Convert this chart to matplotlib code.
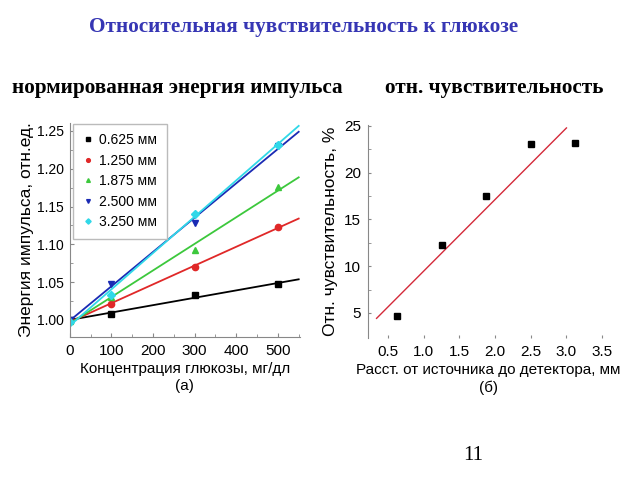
import numpy as np
import matplotlib
matplotlib.use("Agg")
import matplotlib.pyplot as plt
from matplotlib import font_manager

# --- данные ---
conc = [0, 100, 300, 500]  # концентрация глюкозы, мг/дл
series_labels = ["0.625 мм", "1.250 мм", "1.875 мм", "2.500 мм", "3.250 мм"]
energy_0625 = [1.000, 1.008, 1.033, 1.047]
energy_1250 = [0.999, 1.021, 1.070, 1.123]
energy_1875 = [0.998, 1.031, 1.092, 1.176]
energy_2500 = [1.000, 1.047, 1.128, 1.230]
energy_3250 = [0.997, 1.033, 1.140, 1.232]

dist = [0.625, 1.25, 1.875, 2.5, 3.125]  # расстояние источник-детектор, мм
sens = [4.7, 12.3, 17.5, 23.1, 23.2]     # отн. чувствительность, %

names = {f.name for f in font_manager.fontManager.ttflist}
sans = "Liberation Sans Narrow" if "Liberation Sans Narrow" in names else "Liberation Sans"
serif = "Liberation Serif"

fig = plt.figure(figsize=(6.4, 4.8), dpi=100)

fig.text(0.475, 0.943, "Относительная чувствительность к глюкозе", ha="center", va="center",
         family=serif, fontweight="bold", fontsize=15.3, color="#3636b4")
fig.text(0.019, 0.816, "нормированная энергия импульса", ha="left", va="center",
         family=serif, fontweight="bold", fontsize=15.3)
fig.text(0.602, 0.816, "отн. чувствительность", ha="left", va="center",
         family=serif, fontweight="bold", fontsize=15.3)
fig.text(0.74, 0.052, "11", ha="center", va="center", family=serif, fontsize=15)

# --- (а) ---
ax1 = fig.add_axes([0.109, 0.298, 0.359, 0.446])
series = [energy_0625, energy_1250, energy_1875, energy_2500, energy_3250]
colors = ["black", "#e02828", "#3cc83c", "#1a2ab4", "#30d8e8"]
markers = ["s", "o", "^", "v", "D"]
xfit = np.array([0, 550])
for y, c, m, lab in zip(series, colors, markers, series_labels):
    k, b = np.polyfit(conc, y, 1)
    ax1.plot(xfit, k * xfit + b, color=c, lw=1.3)
    ax1.plot(conc, y, ls="none", marker=m, color=c, ms=4.5, label=lab)

ax1.set_xlim(0, 552)
ax1.set_ylim(0.9775, 1.2606)
ax1.set_xticks([0, 100, 200, 300, 400, 500])
ax1.set_xticks(np.arange(50, 551, 100), minor=True)
ax1.set_yticks([1.00, 1.05, 1.10, 1.15, 1.20, 1.25])
ax1.set_yticks(np.arange(1.025, 1.26, 0.05), minor=True)
ax1.yaxis.set_major_formatter(matplotlib.ticker.FormatStrFormatter("%.2f"))
for s in ["top", "right"]:
    ax1.spines[s].set_visible(False)
ax1.spines["left"].set_color("#888888")
ax1.spines["bottom"].set_color("#888888")
ax1.tick_params(direction="in", length=3, labelsize=11, pad=5, color="#888888")
ax1.tick_params(axis="y", labelsize=10, pad=4)
ax1.tick_params(which="minor", direction="in", length=2, color="#888888")
for t in ax1.get_xticklabels() + ax1.get_yticklabels():
    t.set_family(sans)
ax1.set_xlabel("Концентрация глюкозы, мг/дл\n(а)", family=sans, fontsize=11, labelpad=3,
               linespacing=1.3)
ax1.set_ylabel("Энергия импульса, отн.ед.", family=sans, fontsize=12.5)
ax1.yaxis.set_label_coords(-0.155, 0.5)
leg = ax1.legend(loc="upper left", bbox_to_anchor=(0.0, 1.01), prop={"family": sans, "size": 10},
                 handletextpad=0.4, handlelength=0.8, markerscale=0.6, labelspacing=0.47,
                 borderpad=0.7, borderaxespad=0.2, fancybox=False, edgecolor="#bbbbbb",
                 framealpha=1)

# --- (б) ---
ax2 = fig.add_axes([0.575, 0.296, 0.377, 0.444])
k, b = np.polyfit(dist, sens, 1)
xl = np.array([0.34, 3.0])
ax2.plot(xl, k * xl + b, color="#d42a3a", lw=1.0)
ax2.plot(dist, sens, ls="none", marker="s", color="black", ms=5)
ax2.set_xlim(0.22, 3.6)
ax2.set_ylim(2.33, 25.1)
ax2.set_xticks([0.5, 1.0, 1.5, 2.0, 2.5, 3.0, 3.5])
ax2.set_yticks([5, 10, 15, 20, 25])
ax2.set_yticks([7.5, 12.5, 17.5, 22.5], minor=True)
for s in ["top", "right", "bottom"]:
    ax2.spines[s].set_visible(False)
ax2.spines["left"].set_color("#888888")
ax2.tick_params(direction="in", length=2, labelsize=11, pad=5, color="#888888")
ax2.tick_params(which="minor", direction="in", length=2, color="#888888")
for t in ax2.get_xticklabels() + ax2.get_yticklabels():
    t.set_family(sans)
ax2.set_xlabel("Расст. от источника до детектора, мм\n(б)", family=sans, fontsize=11,
               labelpad=3, linespacing=1.3)
ax2.set_ylabel("Отн. чувствительность, %", family=sans, fontsize=12.5, labelpad=4)

fig.savefig("out.png", dpi=100)
